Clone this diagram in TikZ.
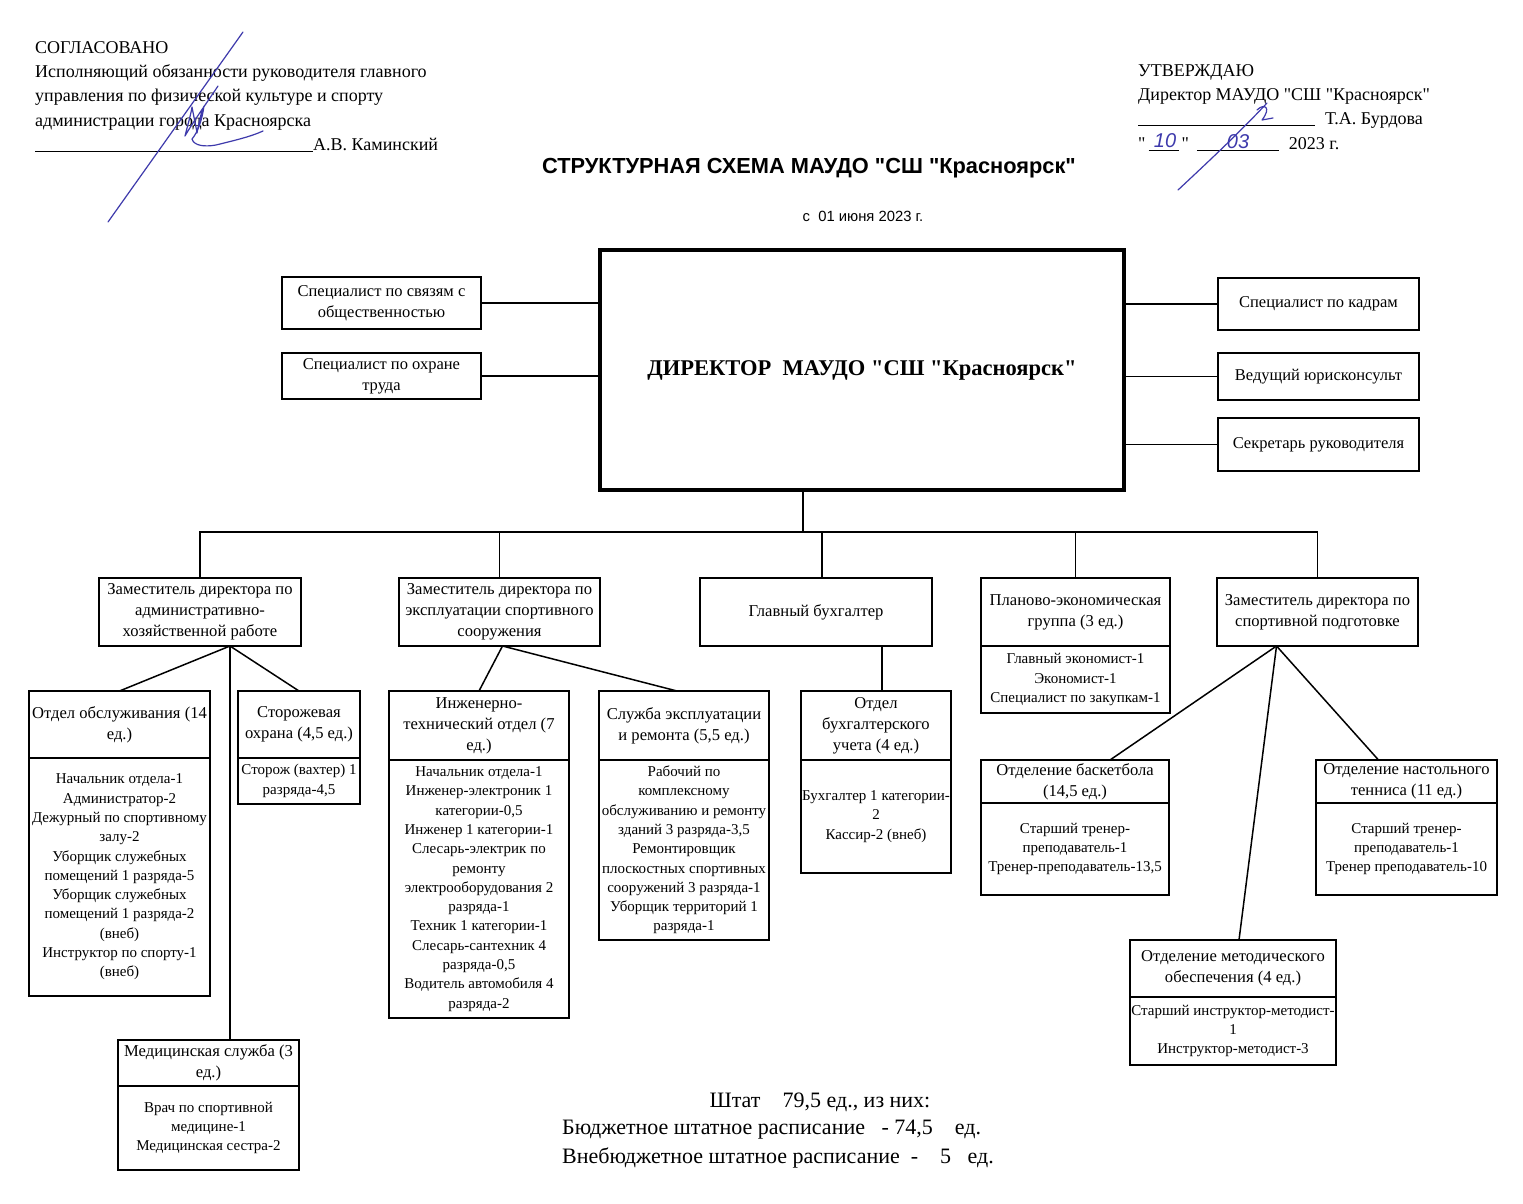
\documentclass[tikz,border=0pt]{standalone}
\usepackage{fontspec}
\setmainfont{Liberation Serif}[Ligatures=TeXOff]
\setsansfont{Liberation Sans}[Ligatures=TeXOff]
\usetikzlibrary{positioning}
\definecolor{InkBlue}{RGB}{62, 58, 172}
\tikzset{
  box/.style={draw, line width=1.4pt, outer sep=0pt, inner xsep=0.5pt, inner ysep=0pt, align=center},
  hdr/.style={box, font=\fontsize{16.6}{21}\selectfont},
  lst/.style={box, font=\fontsize{15}{19.3}\selectfont},
  side/.style={box, font=\fontsize{16.5}{21}\selectfont},
  link/.style={line width=1.5pt},
  sign/.style={InkBlue, line width=1.2pt, line cap=round, line join=round},
}

\begin{document}
\begin{tikzpicture}[x=1pt, y=-1pt]
  \fill[white] (0,0) rectangle (1523,1204);

  % header texts
  \node[anchor=north west, inner sep=0pt, align=left, font=\fontsize{18}{24.3}\selectfont] (agreed) at (35,41) {%
    СОГЛАСОВАНО\\
    Исполняющий обязанности руководителя главного\\
    управления по физической культуре и спорту\\
    администрации города Красноярска\\
    \rule[-1.5pt]{278pt}{0.8pt}А.В. Каминский};
  \node[anchor=north west, inner sep=0pt, align=left, font=\fontsize{18}{24.3}\selectfont] (approved) at (1138,64) {%
    УТВЕРЖДАЮ\\
    Директор МАУДО "СШ "Красноярск"\\
    \rule[-1.5pt]{177pt}{0.8pt}\hspace{10pt}Т.А. Бурдова\\
    "\hspace{3pt}\rule[-1.5pt]{30pt}{0.8pt}\hspace{3pt}"\hspace{8pt}\rule[-1.5pt]{82pt}{0.8pt}\hspace{10pt}2023 г.};
  \node[InkBlue, font=\sffamily\itshape\fontsize{20}{22}\selectfont] (day) at (1165,141) {10};
  \node[InkBlue, font=\sffamily\itshape\fontsize{20}{22}\selectfont] (month) at (1238,142) {03};

  \node[font=\sffamily\bfseries\fontsize{21.8}{24}\selectfont] (title) at (809,168) {СТРУКТУРНАЯ СХЕМА МАУДО "СШ "Красноярск"};
  \node[font=\sffamily\fontsize{14.8}{16}\selectfont] (date) at (863,216) {с\ \ 01 июня 2023 г.};

  % signatures
  \draw[sign] (108,222) -- (243,32);
  \draw[sign] (218,86) .. controls (206,104) and (193,122) .. (185,136)
    .. controls (188,124) and (191,114) .. (192,107)
    .. controls (194,118) and (196,126) .. (197,133)
    .. controls (199,122) and (201,113) .. (204,106)
    .. controls (202,120) and (198,132) .. (192,139)
    .. controls (194,146) and (205,147) .. (216,145)
    .. controls (232,141) and (250,137) .. (263,131);
  \draw[sign] (1178,190) .. controls (1208,162) and (1240,132) .. (1267,103);
  \draw[sign] (1257,110) .. controls (1264,103) and (1272,107) .. (1262,120) -- (1273,118);

  % director
  \node[box, line width=3.4pt, minimum width=524pt, minimum height=240pt,
        font=\bfseries\fontsize{22.5}{26}\selectfont] (dir) at (862,370) {ДИРЕКТОР\ \ МАУДО "СШ "Красноярск"};

  \node[side, minimum width=199pt, minimum height=52pt] (press) at (381.5,303) {Специалист по связям с\\общественностью};
  \node[side, minimum width=199pt, minimum height=46pt] (safety) at (381.5,376) {Специалист по охране\\труда};
  \node[side, minimum width=201pt, minimum height=52pt] (hr) at (1318.5,304) {Специалист по кадрам};
  \node[side, minimum width=201pt, minimum height=47pt] (legal) at (1318.5,376.5) {Ведущий юрисконсульт};
  \node[side, minimum width=201pt, minimum height=53pt] (secr) at (1318.5,444.5) {Секретарь руководителя};

  \draw[link] (press.east) -- (press.east -| dir.west);
  \draw[link] (safety.east) -- (safety.east -| dir.west);
  \draw[link] (hr.west) -- (hr.west -| dir.east);
  \draw[link] (legal.west) -- (legal.west -| dir.east);
  \draw[link] (secr.west) -- (secr.west -| dir.east);

  % deputies
  \node[hdr, minimum width=202pt, minimum height=68pt] (za) at (200,612) {Заместитель директора по\\административно-\\хозяйственной работе};
  \node[hdr, minimum width=201pt, minimum height=68pt] (ze) at (499.5,612) {Заместитель директора по\\эксплуатации спортивного\\сооружения};
  \node[hdr, minimum width=232pt, minimum height=68pt] (gb) at (816,612) {Главный бухгалтер};
  \node[hdr, minimum width=189pt, minimum height=68pt] (pe) at (1075.5,612) {Планово-экономическая\\группа (3 ед.)};
  \node[lst, minimum width=189pt, minimum height=67pt, below=0pt of pe] (pe-list) {Главный экономист-1\\Экономист-1\\Специалист по закупкам-1};
  \node[hdr, minimum width=201pt, minimum height=68pt] (zs) at (1317.5,612) {Заместитель директора по\\спортивной подготовке};

  \coordinate (bus) at (803,532);
  \coordinate (gbin) at ([xshift=6pt]gb.north);
  \draw[link] (bus |- dir.south) -- (bus);
  \draw[link] (za.north) -- (za.north |- bus) -- (zs.north |- bus) -- (zs.north);
  \draw[link] (ze.north) -- (ze.north |- bus);
  \draw[link] (gbin) -- (gbin |- bus);
  \draw[link] (pe.north) -- (pe.north |- bus);

  % administrative branch
  \node[hdr, minimum width=181pt, minimum height=67pt] (oo) at (119.5,724.5) {Отдел обслуживания (14\\ед.)};
  \node[lst, minimum width=181pt, minimum height=238pt, below=0pt of oo] (oo-list) {Начальник отдела-1\\Администратор-2\\Дежурный по спортивному\\залу-2\\Уборщик служебных\\помещений 1 разряда-5\\Уборщик служебных\\помещений 1 разряда-2\\(внеб)\\Инструктор по спорту-1\\(внеб)};
  \node[hdr, minimum width=122pt, minimum height=67pt] (so) at (299,724.5) {Сторожевая\\охрана (4,5 ед.)};
  \node[lst, minimum width=122pt, minimum height=46pt, below=0pt of so] (so-list) {Сторож (вахтер) 1\\разряда-4,5};
  \node[hdr, minimum width=181pt, minimum height=46pt] (ms) at (208.5,1063) {Медицинская служба (3\\ед.)};
  \node[lst, minimum width=181pt, minimum height=84pt, below=0pt of ms] (ms-list) {Врач по спортивной\\медицине-1\\Медицинская сестра-2};

  \coordinate (zaout) at ([xshift=30pt]za.south);
  \draw[link] (zaout) -- (oo.north);
  \draw[link] (zaout) -- (so.north);
  \draw[link] (zaout) -- (zaout |- ms.north);

  % maintenance branch
  \node[hdr, minimum width=180pt, minimum height=69pt] (it) at (479,725.5) {Инженерно-\\технический отдел (7\\ед.)};
  \node[lst, minimum width=180pt, minimum height=258pt, below=0pt of it] (it-list) {Начальник отдела-1\\Инженер-электроник 1\\категории-0,5\\Инженер 1 категории-1\\Слесарь-электрик по\\ремонту\\электрооборудования 2\\разряда-1\\Техник 1 категории-1\\Слесарь-сантехник 4\\разряда-0,5\\Водитель автомобиля 4\\разряда-2};
  \node[hdr, minimum width=170pt, minimum height=69pt] (se) at (684,725.5) {Служба эксплуатации\\и ремонта (5,5 ед.)};
  \node[lst, minimum width=170pt, minimum height=180pt, below=0pt of se] (se-list) {Рабочий по\\комплексному\\обслуживанию и ремонту\\зданий 3 разряда-3,5\\Ремонтировщик\\плоскостных спортивных\\сооружений 3 разряда-1\\Уборщик территорий 1\\разряда-1};

  \coordinate (zeout) at ([xshift=3pt]ze.south);
  \draw[link] (zeout) -- (it.north);
  \draw[link] (zeout) -- ([xshift=-7pt]se.north);

  % accounting
  \node[hdr, minimum width=150pt, minimum height=69pt] (ob) at (876,725.5) {Отдел\\бухгалтерского\\учета (4 ед.)};
  \node[lst, minimum width=150pt, minimum height=113pt, below=0pt of ob] (ob-list) {Бухгалтер 1 категории-\\2\\Кассир-2 (внеб)};
  \coordinate (gbout) at ([xshift=66pt]gb.south);
  \draw[link] (gbout) -- (gbout |- ob.north);

  % sports branch
  \node[hdr, minimum width=188pt, minimum height=43pt] (bk) at (1075,781.5) {Отделение баскетбола\\(14,5 ед.)};
  \node[lst, minimum width=188pt, minimum height=92pt, below=0pt of bk] (bk-list) {Старший тренер-\\преподаватель-1\\Тренер-преподаватель-13,5};
  \node[hdr, minimum width=181pt, minimum height=43pt] (tn) at (1406.5,781.5) {Отделение настольного\\тенниса (11 ед.)};
  \node[lst, minimum width=181pt, minimum height=92pt, below=0pt of tn] (tn-list) {Старший тренер-\\преподаватель-1\\Тренер преподаватель-10};
  \node[hdr, minimum width=206pt, minimum height=57pt] (mt) at (1233,968.5) {Отделение методического\\обеспечения (4 ед.)};
  \node[lst, minimum width=206pt, minimum height=68pt, below=0pt of mt] (mt-list) {Старший инструктор-методист-\\1\\Инструктор-методист-3};

  \coordinate (zsout) at ([xshift=-41pt]zs.south);
  \draw[link] (zsout) -- ([xshift=35pt]bk.north);
  \draw[link] (zsout) -- ([xshift=-28pt]tn.north);
  \draw[link] (zsout) -- ([xshift=6pt]mt.north);

  % totals
  \node[font=\fontsize{22}{28}\selectfont] (staff) at (820,1102) {Штат\quad 79,5 ед., из них:};
  \node[anchor=west, inner sep=0pt, font=\fontsize{22}{28}\selectfont] (budget) at (562,1130) {Бюджетное штатное расписание\ \ \ - 74,5\ \ \ \ ед.};
  \node[anchor=west, inner sep=0pt, font=\fontsize{22}{28}\selectfont] (extra) at (562,1158) {Внебюджетное штатное расписание\ \ -\ \ \ \ 5\ \ \ ед.};
\end{tikzpicture}
\end{document}
